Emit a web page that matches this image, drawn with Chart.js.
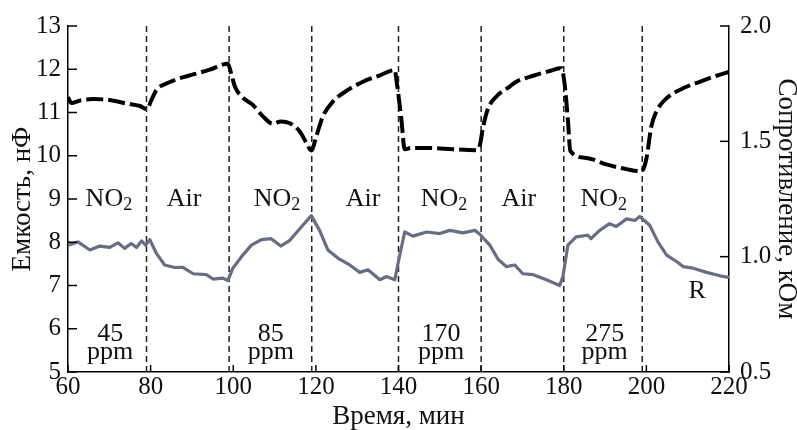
<!DOCTYPE html>
<html>
<head>
<meta charset="utf-8">
<script src="https://cdn.jsdelivr.net/npm/chart.js@4.4.1/dist/chart.umd.min.js"></script>
<style>
html,body{margin:0;padding:0;background:#fff;}
#wrap{width:797px;height:430px;}
</style>
</head>
<body>
<div id="wrap"><canvas id="c" width="797" height="430"></canvas></div>
<script>
// ---- data ----
const capTime = [60,60.8,63,66,70,74,77.4,79.1,80.2,81.4,83.8,87,90.3,94.3,98.7,99.5,100.4,102,104.8,107.2,109.6,111.5,113.7,116.1,117.7,118.9,120.1,121.7,124.1,127.4,131.4,135.5,139.1,139.5,140.7,141.5,143.1,147.6,153.2,158.9,159.7,160.5,161.7,163.7,166.9,168.5,172.6,176.6,179.4,180.2,181,181.6,185.5,190.3,195.2,198.8,200,201.2,202.4,204.9,208.9,212.9,217,220];
const capValues = [11.35,11.22,11.28,11.31,11.29,11.21,11.15,11.08,11.29,11.52,11.67,11.79,11.88,11.99,12.13,11.90,11.60,11.37,11.17,10.91,10.74,10.79,10.75,10.56,10.30,10.12,10.45,10.91,11.25,11.50,11.71,11.86,11.98,11.75,10.84,10.15,10.18,10.18,10.15,10.13,10.25,10.68,11.10,11.37,11.60,11.71,11.85,11.96,12.03,11.67,10.83,10.11,9.95,9.80,9.69,9.64,9.93,10.68,11.02,11.33,11.56,11.71,11.85,11.94];
const resTime = [60,62.4,65.3,67.7,70.1,72.1,73.7,75.3,76.6,77.8,78.8,79.8,81.4,83.4,85.8,87.8,90.3,93.5,95.1,97.5,98.7,99.9,102,104.4,106.8,109.2,111.5,113.7,116.1,118.9,120.9,122.9,125.4,128.2,130.6,132.6,135.5,137.1,139.1,140.3,141.5,143.5,146.8,150,152.4,155.6,158.5,159.7,162.1,164.1,166.1,168.1,170.1,172.6,175.8,179,179.8,181,183,185.8,186.6,188.7,191.1,192.7,195.2,197.2,198.4,200.8,202.8,204.9,207.3,208.9,211.3,214.6,217.8,220];
const resValues = [1.050,1.064,1.029,1.046,1.040,1.060,1.036,1.057,1.040,1.068,1.050,1.074,1.014,0.964,0.953,0.954,0.926,0.922,0.903,0.907,0.896,0.950,1.000,1.050,1.074,1.078,1.046,1.071,1.121,1.178,1.114,1.029,0.993,0.964,0.932,0.943,0.900,0.914,0.900,1.007,1.107,1.089,1.107,1.100,1.114,1.103,1.114,1.097,1.050,0.989,0.957,0.964,0.926,0.922,0.900,0.875,0.914,1.050,1.086,1.093,1.078,1.114,1.143,1.131,1.164,1.157,1.174,1.136,1.064,1.007,0.979,0.957,0.950,0.932,0.917,0.910];
const switchTimes = [79, 99, 119, 140, 160, 180, 199];
const phaseLabels = ["NO2","Air","NO2","Air","NO2","Air","NO2"];
const phaseCenters = [69.9, 88.1, 110.6, 131.4, 151.0, 169.1, 189.7];
const concLabels = ["45","85","170","275"];
const concCenters = [70.2, 109.1, 150.3, 189.9];
const xTicks = [60,80,100,120,140,160,180,200,220];

const FONT = "'Liberation Serif','Times New Roman',serif";
const capPoints = capTime.map((t,i)=>({x:t,y:capValues[i]}));
const resPoints = resTime.map((t,i)=>({x:t,y:resValues[i]}));

const datasets = [
  {label:'C', data:capPoints, yAxisID:'y', borderColor:'#000', borderWidth:4, borderDash:[17,5],
   pointRadius:0, fill:false, cubicInterpolationMode:'monotone', order:1},
  {label:'R', data:resPoints, yAxisID:'y1', borderColor:'#676d85', borderWidth:3.2,
   pointRadius:0, fill:false, tension:0, borderJoinStyle:'round', order:2}
];
switchTimes.forEach(t=>{
  datasets.push({label:'sw', data:[{x:t,y:5},{x:t,y:13}], yAxisID:'y', borderColor:'#222',
    borderWidth:1.5, borderDash:[6,4], pointRadius:0, fill:false, order:3});
});

const decor = {
  id:'decor',
  afterDraw(chart){
    const ctx = chart.ctx, xs = chart.scales.x, ys = chart.scales.y, y1 = chart.scales.y1;
    const ca = chart.chartArea;
    ctx.save();
    ctx.strokeStyle = '#000'; ctx.lineWidth = 1.5;
    // inward tick marks
    ys.ticks.forEach(tk=>{ const p = ys.getPixelForValue(tk.value);
      ctx.beginPath(); ctx.moveTo(ca.left, p); ctx.lineTo(ca.left+9, p); ctx.stroke(); });
    y1.ticks.forEach(tk=>{ const p = y1.getPixelForValue(tk.value);
      ctx.beginPath(); ctx.moveTo(ca.right, p); ctx.lineTo(ca.right-9, p); ctx.stroke(); });
    xs.ticks.forEach(tk=>{ const p = xs.getPixelForValue(tk.value);
      ctx.beginPath(); ctx.moveTo(p, ca.bottom); ctx.lineTo(p, ca.bottom-7); ctx.stroke(); });
    // labels
    ctx.fillStyle = '#111';
    ctx.textBaseline = 'alphabetic';
    const big = "26px " + FONT, small = "18px " + FONT;
    phaseLabels.forEach((lab,i)=>{
      const cx = xs.getPixelForValue(phaseCenters[i]);
      const by = ys.getPixelForValue(8.84);
      if (lab === 'NO2') {
        ctx.font = big; const w1 = ctx.measureText('NO').width;
        ctx.font = small; const w2 = ctx.measureText('2').width;
        const x0 = cx - (w1+w2)/2;
        ctx.textAlign = 'left';
        ctx.font = big; ctx.fillText('NO', x0, by);
        ctx.font = small; ctx.fillText('2', x0 + w1, by + 4);
      } else {
        ctx.font = big; ctx.textAlign = 'center'; ctx.fillText(lab, cx, by);
      }
    });
    ctx.font = big; ctx.textAlign = 'center';
    concLabels.forEach((lab,i)=>{
      const cx = xs.getPixelForValue(concCenters[i]);
      ctx.fillText(lab, cx, ys.getPixelForValue(5.71));
      ctx.fillText('ppm', cx, ys.getPixelForValue(5.29));
    });
    ctx.fillText('R', xs.getPixelForValue(212.3), ys.getPixelForValue(6.70));
    ctx.restore();
  }
};

new Chart(document.getElementById('c'), {
  type:'line',
  data:{datasets},
  options:{
    responsive:false, animation:false, devicePixelRatio:1,
    layout:{padding:{top:22,left:0,right:0,bottom:0}},
    plugins:{legend:{display:false}, tooltip:{enabled:false}},
    scales:{
      x:{type:'linear', min:60, max:220,
         afterBuildTicks(s){ s.ticks = xTicks.map(v=>({value:v})); },
         afterFit(s){ s.height = 58; },
         grid:{display:false, drawTicks:false},
         border:{display:true, color:'#000', width:1.5},
         ticks:{color:'#111', font:{family:FONT, size:25}, padding:0, maxRotation:0, autoSkip:false},
         title:{display:true, text:'Время, мин', color:'#111', font:{family:FONT, size:27, lineHeight:1}, padding:{top:0,bottom:0}}
      },
      y:{position:'left', min:5, max:13,
         afterFit(s){ s.width = 68; },
         grid:{display:false, drawTicks:false},
         border:{display:true, color:'#000', width:1.5},
         ticks:{stepSize:1, color:'#111', font:{family:FONT, size:25}, padding:7},
         title:{display:true, text:'Емкость, нФ', color:'#111', font:{family:FONT, size:27, lineHeight:1}, padding:{top:9,bottom:0}}
      },
      y1:{position:'right', min:0.5, max:2.0,
         afterFit(s){ s.width = 68; },
         grid:{display:false, drawTicks:false},
         border:{display:true, color:'#000', width:1.5},
         ticks:{stepSize:0.5, color:'#111', font:{family:FONT, size:25}, padding:11,
                callback:(v)=>Number(v).toFixed(1)},
         title:{display:true, text:'Сопротивление, кОм', color:'#111', font:{family:FONT, size:27, lineHeight:1}, padding:{top:-3,bottom:0}}
      }
    }
  },
  plugins:[decor]
});
</script>
</body>
</html>
